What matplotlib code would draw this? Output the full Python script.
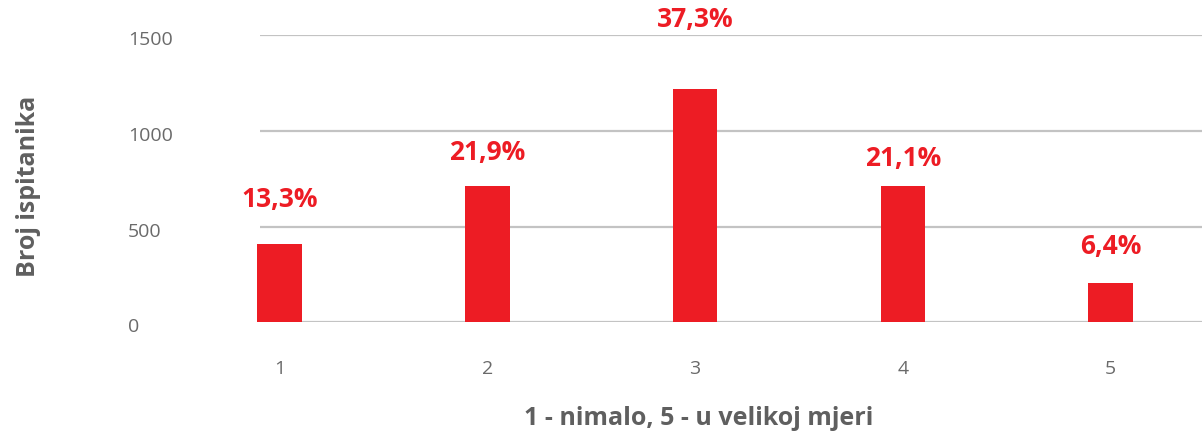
import matplotlib
matplotlib.use("Agg")
import matplotlib.pyplot as plt
import matplotlib.transforms as mtrans

categories = ["1", "2", "3", "4", "5"]
counts = [409, 712, 1218, 712, 204]
percent_labels = ["13,3%", "21,9%", "37,3%", "21,1%", "6,4%"]
y_ticks = [0, 500, 1000, 1500]

# label offsets above bar tops (points) — visual placement only
label_gaps = [22, 14, 40, 10, 17]

RED = "#ED1C24"
GRAY = "#5F5F5F"
TICK = "#6A6A6A"
GRID = "#C3C3C3"

plt.rcParams["font.family"] = ["Open Sans", "DejaVu Sans"]

fig = plt.figure(figsize=(12.02, 4.40), dpi=100)
W, H = 1202, 440
left_px, right_px, top_px, bottom_px = 260, 1202, 35, 322.3
ax = fig.add_axes([left_px / W, 1 - bottom_px / H,
                   (right_px - left_px) / W, (bottom_px - top_px) / H])

x = list(range(len(categories)))
ax.bar(x, counts, width=0.214, color=RED, zorder=3, clip_on=False)

ax.set_ylim(0, 1500)
ax.set_xlim(-0.094, 4.44)
ax.set_yticks(y_ticks)
ax.set_yticklabels([str(v) for v in y_ticks])
ax.set_xticks(x)
ax.set_xticklabels(categories)

for s in ax.spines.values():
    s.set_visible(False)
ax.grid(axis="y", color=GRID, linewidth=1.6, zorder=0)
ax.tick_params(axis="both", length=0, colors=TICK, labelsize=14)
ax.tick_params(axis="x", pad=27)
ax.tick_params(axis="y", pad=95)
for lbl in ax.get_yticklabels():
    lbl.set_horizontalalignment("left")
    lbl.set_verticalalignment("center")

offset = mtrans.ScaledTranslation(0, -5 / 100, fig.dpi_scale_trans)
for lbl in ax.get_yticklabels():
    lbl.set_transform(lbl.get_transform() + offset)

for xi, c, p, g in zip(x, counts, percent_labels, label_gaps):
    ax.annotate(p, xy=(xi, c), xytext=(0, g), textcoords="offset points",
                ha="center", va="bottom", color=RED, fontsize=19,
                fontweight="bold", clip_on=False, annotation_clip=False)

fig.text(699 / W, 1 - 418 / H, "1 - nimalo, 5 - u velikoj mjeri",
         ha="center", va="center", color=GRAY, fontsize=18, fontweight="bold")
fig.text(29 / W, 1 - 186 / H, "Broj ispitanika", rotation=90,
         ha="center", va="center", color=GRAY, fontsize=18, fontweight="bold")

fig.savefig("out.png", dpi=100)
